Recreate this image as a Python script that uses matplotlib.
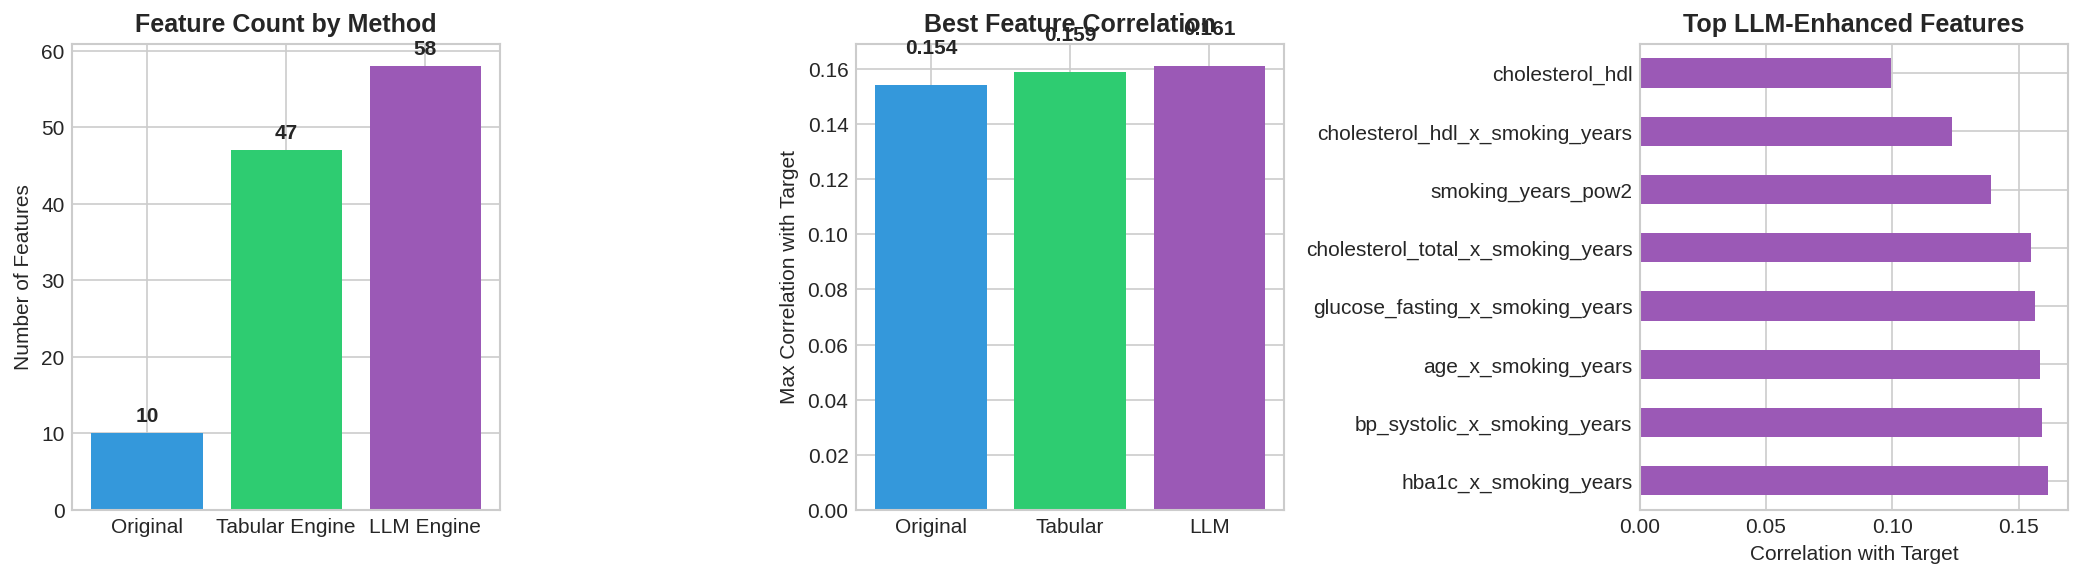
import matplotlib
matplotlib.use('Agg')
import matplotlib.pyplot as plt
import pandas as pd

plt.style.use('seaborn-v0_8-whitegrid')

# data
methods = ['Original', 'Tabular Engine', 'LLM Engine']
feature_counts = [10, 47, 58]

corr_methods = ['Original', 'Tabular', 'LLM']
best_corr = [0.154, 0.159, 0.161]

top_features = [
    'hba1c_x_smoking_years',
    'bp_systolic_x_smoking_years',
    'age_x_smoking_years',
    'glucose_fasting_x_smoking_years',
    'cholesterol_total_x_smoking_years',
    'smoking_years_pow2',
    'cholesterol_hdl_x_smoking_years',
    'cholesterol_hdl',
]
top_corr = [0.1616, 0.1593, 0.1585, 0.1565, 0.1549, 0.139, 0.1235, 0.0993]

colors = ['#3498db', '#2ecc71', '#9b59b6']

fig, axes = plt.subplots(1, 3, figsize=(13.89, 3.87), dpi=150)

# feature count
ax = axes[0]
bars = ax.bar(methods, feature_counts, color=colors)
for b, v in zip(bars, feature_counts):
    ax.text(b.get_x() + b.get_width() / 2, v + 1, str(v),
            ha='center', va='bottom', fontweight='bold')
ax.set_ylabel('Number of Features')
ax.set_title('Feature Count by Method', fontsize=12, fontweight='bold')

# best correlation
ax = axes[1]
bars = ax.bar(corr_methods, best_corr, color=colors)
for b, v in zip(bars, best_corr):
    ax.text(b.get_x() + b.get_width() / 2, v + 0.01, f'{v:.3f}',
            ha='center', va='bottom', fontweight='bold')
ax.set_ylabel('Max Correlation with Target')
ax.set_title('Best Feature Correlation', fontsize=12, fontweight='bold')

# top llm features
ax = axes[2]
s = pd.Series(top_corr, index=top_features)
s.plot(kind='barh', ax=ax, color='#9b59b6')
ax.set_xlabel('Correlation with Target')
ax.set_title('Top LLM-Enhanced Features', fontsize=12, fontweight='bold')

fig.subplots_adjust(left=0.0345, right=0.9927, bottom=0.1207, top=0.9235, wspace=0.829)
fig.savefig('out.png', dpi=150)
